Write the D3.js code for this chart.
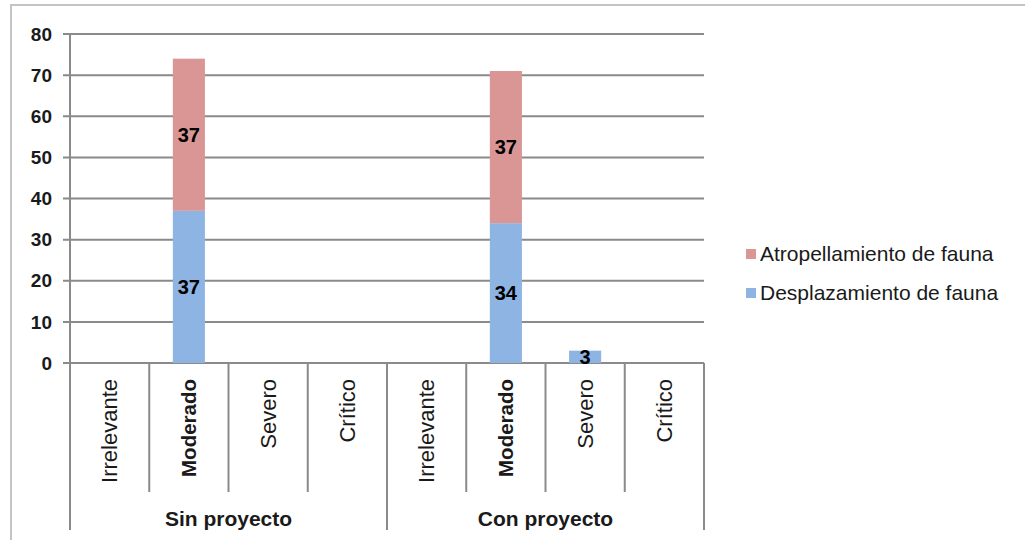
<!DOCTYPE html>
<html>
<head>
<meta charset="utf-8">
<script src="https://cdn.jsdelivr.net/npm/d3@7"></script>
<style>
  html, body { margin: 0; padding: 0; background: #fff; }
  svg { display: block; font-family: "Liberation Sans", Arial, sans-serif; }
</style>
</head>
<body>
<svg id="chart" width="1025" height="540"></svg>
<script>
// Impact levels, repeated for each scenario
const levels = ["Irrelevante", "Moderado", "Severo", "Crítico"];
const scenarios = ["Sin proyecto", "Con proyecto"];
const seriesNames = ["Desplazamiento de fauna", "Atropellamiento de fauna"];
const seriesColors = ["#8EB4E3", "#D99694"];
// values per scenario, in level order
const desplazamiento = [[0, 37, 0, 0], [0, 34, 3, 0]];
const atropellamiento = [[0, 37, 0, 0], [0, 37, 0, 0]];
const yTicks = [0, 10, 20, 30, 40, 50, 60, 70, 80];

const svg = d3.select("#chart");
const gridColor = "#8a8a8a";

// outer frame
svg.append("rect").attr("x", 11).attr("y", 5).attr("width", 1030).attr("height", 560)
  .attr("fill", "none").attr("stroke", "#c4c4c4").attr("stroke-width", 2);

// flatten into one row per category slot
const rows = [];
scenarios.forEach((s, si) => levels.forEach((l, li) => rows.push({
  key: s + "|" + l, scenario: s, level: l,
  values: [desplazamiento[si][li], atropellamiento[si][li]]
})));

const x = d3.scaleBand().domain(rows.map(r => r.key)).range([70, 704]).paddingInner(0).paddingOuter(0);
const y = d3.scaleLinear().domain([0, 80]).range([363, 34]);
const bw = x.bandwidth() * 0.405;

// gridlines
svg.append("g").selectAll("line").data(yTicks).join("line")
  .attr("x1", 63).attr("x2", 704)
  .attr("y1", d => y(d)).attr("y2", d => y(d))
  .attr("stroke", gridColor).attr("stroke-width", 2);

// y tick labels
svg.append("g").selectAll("text").data(yTicks).join("text")
  .attr("x", 52).attr("y", d => y(d)).attr("dy", "0.35em")
  .attr("text-anchor", "end").attr("font-size", 19).attr("font-weight", "bold")
  .attr("fill", "#1a1a1a").text(d => d);

// stacked bars
const stack = d3.stack().keys([0, 1]).value((r, k) => r.values[k]);
const stacked = stack(rows);
const barG = svg.append("g");
stacked.forEach((layer, k) => {
  barG.selectAll(null).data(layer.filter(d => d[1] - d[0] > 0)).join("rect")
    .attr("x", d => x(d.data.key) + (x.bandwidth() - bw) / 2)
    .attr("width", bw)
    .attr("y", d => y(d[1]))
    .attr("height", d => y(d[0]) - y(d[1]))
    .attr("fill", seriesColors[k]);
});

// value labels
stacked.forEach((layer, k) => {
  svg.append("g").selectAll("text").data(layer.filter(d => d[1] - d[0] > 0)).join("text")
    .attr("x", d => x(d.data.key) + x.bandwidth() / 2)
    .attr("y", d => (y(d[0]) + y(d[1])) / 2)
    .attr("dy", "0.35em").attr("text-anchor", "middle")
    .attr("font-size", 20).attr("font-weight", "bold").attr("fill", "#000")
    .text(d => d[1] - d[0]);
});

// axes: left axis and category / group separators
const edges = rows.map((r, i) => ({ xPos: x(r.key), group: i % levels.length === 0 }));
edges.push({ xPos: 704, group: true });
svg.append("g").selectAll("line").data(edges).join("line")
  .attr("x1", d => d.xPos).attr("x2", d => d.xPos)
  .attr("y1", (d, i) => i === 0 ? 34 : 363)
  .attr("y2", d => d.group ? 530 : 492)
  .attr("stroke", gridColor).attr("stroke-width", 2);

// level labels, rotated
svg.append("g").selectAll("text").data(rows).join("text")
  .attr("transform", d => `translate(${x(d.key) + x.bandwidth() / 2},379) rotate(-90)`)
  .attr("text-anchor", "end").attr("dy", "0.35em")
  .attr("font-size", d => d.level === "Moderado" ? 20.5 : 22)
  .attr("font-weight", d => d.level === "Moderado" ? "bold" : "normal")
  .attr("fill", "#1a1a1a").text(d => d.level);

// scenario labels
svg.append("g").selectAll("text").data(scenarios).join("text")
  .attr("x", s => {
    const ks = rows.filter(r => r.scenario === s).map(r => x(r.key));
    return (d3.min(ks) + d3.max(ks) + x.bandwidth()) / 2;
  })
  .attr("y", 519).attr("dy", "0.35em").attr("text-anchor", "middle")
  .attr("font-size", 21).attr("font-weight", "bold").attr("fill", "#1a1a1a").text(s => s);

// legend (top series first)
const legendItems = [1, 0];
const lg = svg.append("g");
legendItems.forEach((k, i) => {
  const cy = 254 + i * 39;
  lg.append("rect").attr("x", 746).attr("y", cy - 5).attr("width", 10).attr("height", 10)
    .attr("fill", seriesColors[k]);
  lg.append("text").attr("x", 760).attr("y", cy).attr("dy", "0.35em")
    .attr("font-size", 21).attr("fill", "#1a1a1a").text(seriesNames[k]);
});
</script>
</body>
</html>
